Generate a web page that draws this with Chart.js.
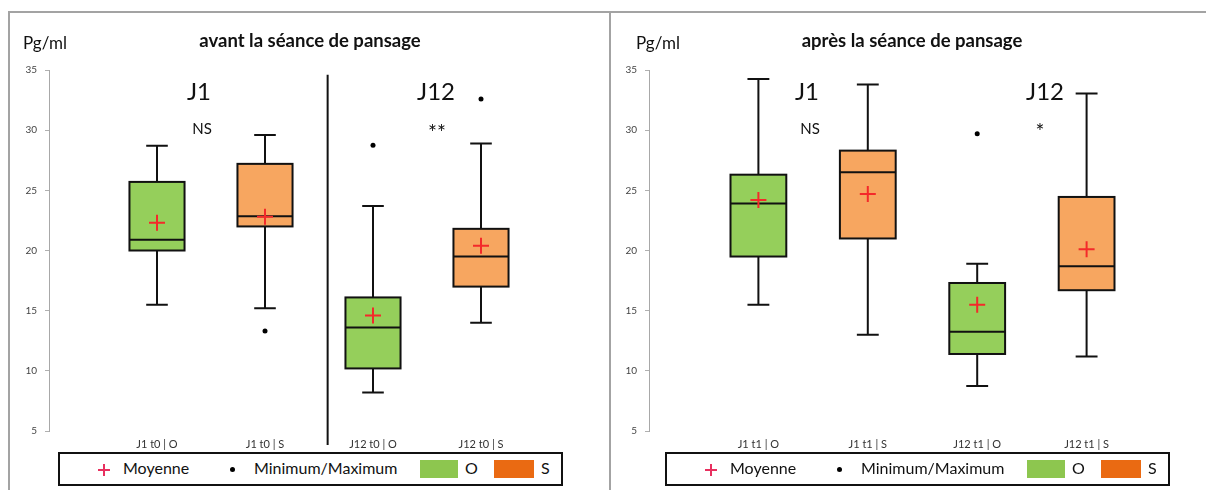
<!DOCTYPE html>
<html>
<head>
<meta charset="utf-8">
<script src="https://cdn.jsdelivr.net/npm/chart.js@4.4.1/dist/chart.umd.min.js"></script>
<style>
  body { margin: 0; width: 1206px; height: 490px; overflow: hidden; background: #fff; font-family: Lato, "Open Sans", sans-serif; color: #111; position: relative; }
  .panel { position: absolute; top: 11px; height: 500px; box-sizing: border-box; border: 2px solid #a3a3a3; }
  canvas { position: absolute; top: 13px; }
  .txt { position: absolute; white-space: nowrap; line-height: 1; }
  .title { font-weight: bold; font-size: 18.5px; transform: translateX(-50%); }
  .unit { font-size: 17px; }
  .big { font-size: 24px; transform: translateX(-50%); }
  .sig { font-size: 15px; transform: translateX(-50%); }
  .star { font-size: 21px; transform: translateX(-50%); }
  .legend { position: absolute; top: 452px; width: 505px; height: 34px; box-sizing: border-box; border: 2px solid #111; background: #fff; }
  .legend span { position: absolute; }
  .legend .lt { font-size: 16px; top: 6px; line-height: 1; }
  .cross { left: 38px; top: 10px; width: 12px; height: 12px; }
  .cross::before, .cross::after { content: ''; position: absolute; background: #e8305f; }
  .cross::before { left: 5px; top: 0; width: 2px; height: 12px; }
  .cross::after { left: 0; top: 5px; width: 12px; height: 2px; }
  .dot { left: 170px; top: 13px; width: 5px; height: 5px; border-radius: 50%; background: #000; }
  .rect { top: 6px; height: 18px; }
</style>
</head>
<body>
<div class="panel" style="left:8px; width:603px;"></div>
<div class="panel" style="left:609px; width:640px; border-left:none;"></div>

<canvas id="chart0" width="598" height="477" style="left:10px;"></canvas>
<canvas id="chart1" width="595" height="477" style="left:611px;"></canvas>

<div class="txt unit" style="left:23px; top:34px;">Pg/ml</div>
<div class="txt title" style="left:310px; top:31px;">avant la séance de pansage</div>
<div class="txt big" style="left:199px; top:79px;">J1</div>
<div class="txt sig" style="left:202px; top:121px;">NS</div>
<div class="txt big" style="left:436px; top:79px;">J12</div>
<div class="txt star" style="left:437px; top:121px;">**</div>

<div class="txt unit" style="left:636px; top:34px;">Pg/ml</div>
<div class="txt title" style="left:912px; top:31px;">après la séance de pansage</div>
<div class="txt big" style="left:807px; top:79px;">J1</div>
<div class="txt sig" style="left:810px; top:121px;">NS</div>
<div class="txt big" style="left:1045px; top:79px;">J12</div>
<div class="txt star" style="left:1040px; top:120px;">*</div>

<div class="legend" style="left:58px;">
  <span class="cross"></span><span class="lt" style="left:63px;">Moyenne</span>
  <span class="dot"></span><span class="lt" style="left:194px;">Minimum/Maximum</span>
  <span class="rect" style="left:360px; width:38px; background:#8dc64f;"></span><span class="lt" style="left:405px;">O</span>
  <span class="rect" style="left:434px; width:40px; background:#ea6a12;"></span><span class="lt" style="left:481px;">S</span>
</div>
<div class="legend" style="left:665px;">
  <span class="cross"></span><span class="lt" style="left:63px;">Moyenne</span>
  <span class="dot"></span><span class="lt" style="left:194px;">Minimum/Maximum</span>
  <span class="rect" style="left:360px; width:38px; background:#8dc64f;"></span><span class="lt" style="left:405px;">O</span>
  <span class="rect" style="left:434px; width:40px; background:#ea6a12;"></span><span class="lt" style="left:481px;">S</span>
</div>

<script>
// avant la séance (t0)
const labelsT0 = ['J1 t0 | O', 'J1 t0 | S', 'J12 t0 | O', 'J12 t0 | S'];
const minT0 = [15.5, 15.2, 8.2, 14.0];
const q1T0 = [20.0, 22.0, 10.2, 17.0];
const medT0 = [20.9, 22.85, 13.6, 19.5];
const q3T0 = [25.7, 27.2, 16.1, 21.8];
const maxT0 = [28.7, 29.6, 23.7, 28.9];
const meanT0 = [22.3, 22.8, 14.6, 20.4];
const outT0 = [[], [13.3], [28.75], [32.6]];

// après la séance (t1)
const labelsT1 = ['J1 t1 | O', 'J1 t1 | S', 'J12 t1 | O', 'J12 t1 | S'];
const minT1 = [15.5, 13.0, 8.75, 11.2];
const q1T1 = [19.5, 21.0, 11.4, 16.7];
const medT1 = [23.9, 26.5, 13.25, 18.7];
const q3T1 = [26.3, 28.3, 17.3, 24.45];
const maxT1 = [34.25, 33.8, 18.9, 33.05];
const meanT1 = [24.2, 24.7, 15.5, 20.1];
const outT1 = [[], [], [29.7], []];

const groups = ['O', 'S', 'O', 'S'];
const yTicks = [5, 10, 15, 20, 25, 30, 35];

const BOX_W = 0.51;
const CAP_W = 0.2;
const fillColors = { O: '#95cf5b', S: '#f7a660' };

const boxPlugin = {
  id: 'boxes',
  beforeDatasetsDraw(chart, args, opts) {
    const { ctx, scales: { x, y }, chartArea } = chart;
    ctx.save();
    ctx.strokeStyle = '#111';
    ctx.lineWidth = 2;
    opts.med.forEach((m, i) => {
      const p = i + 1;
      const cx = x.getPixelForValue(p);
      const l = x.getPixelForValue(p - BOX_W / 2), r = x.getPixelForValue(p + BOX_W / 2);
      const cl = x.getPixelForValue(p - CAP_W / 2), cr = x.getPixelForValue(p + CAP_W / 2);
      const yMin = y.getPixelForValue(opts.min[i]), yMax = y.getPixelForValue(opts.max[i]);
      const yQ1 = y.getPixelForValue(opts.q1[i]), yQ3 = y.getPixelForValue(opts.q3[i]);
      const yMed = y.getPixelForValue(m);
      ctx.beginPath();
      ctx.moveTo(cx, yMax); ctx.lineTo(cx, yQ3);
      ctx.moveTo(cx, yQ1); ctx.lineTo(cx, yMin);
      ctx.moveTo(cl, yMax); ctx.lineTo(cr, yMax);
      ctx.moveTo(cl, yMin); ctx.lineTo(cr, yMin);
      ctx.stroke();
      ctx.fillStyle = fillColors[groups[i]];
      ctx.fillRect(l, yQ3, r - l, yQ1 - yQ3);
      ctx.strokeRect(l, yQ3, r - l, yQ1 - yQ3);
      ctx.beginPath();
      ctx.moveTo(l, yMed); ctx.lineTo(r, yMed);
      ctx.stroke();
    });
    if (opts.divider) {
      const dx = x.getPixelForValue(opts.divider);
      ctx.beginPath();
      ctx.moveTo(dx, y.getPixelForValue(34.6));
      ctx.lineTo(dx, chartArea.bottom + 14);
      ctx.stroke();
    }
    ctx.restore();
  }
};

function makeChart(id, labels, mins, q1s, meds, q3s, maxs, means, outs, axisW, padRight, divider) {
  const meanPts = means.map((v, i) => ({ x: i + 1, y: v }));
  const outPts = [];
  outs.forEach((list, i) => list.forEach(v => outPts.push({ x: i + 1, y: v })));
  return new Chart(document.getElementById(id), {
    type: 'scatter',
    data: {
      datasets: [
        { label: 'Moyenne', data: meanPts, pointStyle: 'cross', pointRadius: 8, borderColor: '#f42a2a', borderWidth: 2 },
        { label: 'Minimum/Maximum', data: outPts, pointStyle: 'circle', pointRadius: 2.5, backgroundColor: '#000', borderColor: '#000', borderWidth: 0 }
      ]
    },
    options: {
      responsive: false,
      animation: false,
      devicePixelRatio: 1,
      layout: { padding: { top: 57, right: padRight, bottom: 29, left: 0 } },
      plugins: {
        legend: { display: false },
        tooltip: { enabled: false },
        boxes: { min: mins, q1: q1s, med: meds, q3: q3s, max: maxs, divider: divider }
      },
      scales: {
        x: {
          type: 'linear', min: 0, max: 5,
          afterFit: s => { s.height = 30; },
          afterBuildTicks: s => { s.ticks = [1, 2, 3, 4].map(v => ({ value: v })); },
          grid: { display: false, drawTicks: false },
          border: { display: false },
          ticks: {
            padding: 7, autoSkip: false, maxRotation: 0,
            color: '#333', font: { family: 'Lato', size: 11 },
            callback: v => labels[v - 1] || ''
          }
        },
        y: {
          min: 5, max: 35,
          afterFit: s => { s.width = axisW; },
          afterBuildTicks: s => { s.ticks = yTicks.map(v => ({ value: v })); },
          grid: { drawOnChartArea: false, drawTicks: true, tickLength: 4, color: '#b0b0b0' },
          border: { display: true, color: '#a8a8a8', width: 1 },
          ticks: { padding: 8, color: '#444', font: { family: 'Lato', size: 10 } }
        }
      }
    },
    plugins: [boxPlugin]
  });
}

makeChart('chart0', labelsT0, minT0, q1T0, medT0, q3T0, maxT0, meanT0, outT0, 39, 19, 2.58);
makeChart('chart1', labelsT1, minT1, q1T1, medT1, q3T1, maxT1, meanT1, outT1, 38, 7, null);
</script>
</body>
</html>
